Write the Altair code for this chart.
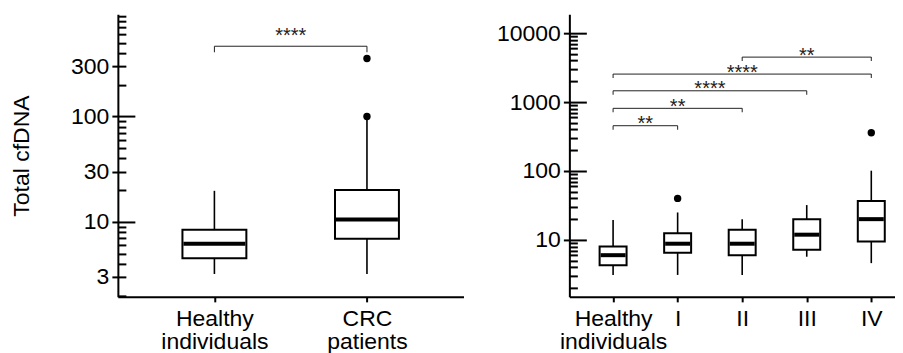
import altair as alt
import pandas as pd

FONT = "Liberation Sans"
FS = 23

# ---------------- data: left panel ----------------
left_cats = ["Healthy|individuals", "CRC|patients"]
left_low = [3.2, 3.2]
left_q1 = [4.5, 6.9]
left_med = [6.2, 10.5]
left_q3 = [8.4, 20.0]
left_high = [19.7, 100.0]
left_out_cat = [1, 1]
left_out_val = [100.0, 355.0]
left_br_a = [0]
left_br_b = [1]
left_br_y = [464.0]
left_br_txt = ["****"]
left_major = [3, 10, 30, 100, 300]

# ---------------- data: right panel ----------------
right_cats = ["Healthy|individuals", "I", "II", "III", "IV"]
right_low = [3.1, 3.1, 3.1, 5.7, 4.6]
right_q1 = [4.3, 6.5, 6.0, 7.2, 9.5]
right_med = [6.0, 8.8, 8.8, 11.9, 20.0]
right_q3 = [8.0, 12.5, 14.0, 20.0, 36.7]
right_high = [19.5, 25.0, 20.0, 32.0, 101.0]
right_out_cat = [1, 4]
right_out_val = [40.0, 359.0]
right_br_a = [0, 0, 0, 0, 2]
right_br_b = [1, 2, 3, 4, 4]
right_br_y = [454.0, 811.0, 1458.0, 2547.0, 4490.0]
right_br_txt = ["**", "**", "****", "****", "**"]
right_major = [10, 100, 1000, 10000]

DECADE_TEST = "abs(log(datum.value)/LN10 - round(log(datum.value)/LN10)) < 0.001"


def minor_values(lo, hi):
    return [m * 10 ** e for e in range(0, 6) for m in range(1, 10) if lo <= m * 10 ** e <= hi]


def panel(cats, low, q1, med, q3, high, out_cat, out_val, br_a, br_b, br_y, br_txt,
          ydomain, major, xdomain, width, box_w, drop, text_dy, ytitle, title_pad):
    n = len(cats)
    stats = pd.DataFrame({"i": list(range(n)), "low": low, "q1": q1, "med": med,
                          "q3": q3, "high": high})
    outl = pd.DataFrame({"i": out_cat, "v": out_val})
    br = pd.DataFrame({"a": br_a, "b": br_b, "y": br_y, "t": br_txt})
    br["mid"] = (br["a"] + br["b"]) / 2
    ends = pd.concat([
        br[["a", "y"]].rename(columns={"a": "i"}),
        br[["b", "y"]].rename(columns={"b": "i"}),
    ])

    label_arr = "[" + ",".join("'%s'" % c for c in cats) + "]"
    xscale = alt.Scale(domain=xdomain, nice=False, zero=False)
    xaxis = alt.Axis(values=list(range(n)),
                     labelExpr="split(%s[datum.value], '|')" % label_arr,
                     title=None, grid=False, tickSize=5, tickWidth=2, domainWidth=2,
                     domainColor="black", tickColor="black", labelColor="black",
                     labelFont=FONT, labelFontSize=FS, labelLineHeight=23,
                     labelPadding=6, labelAngle=0, labelFlush=False, labelOverlap=False,
                     labelBaseline="top")

    def X(f):
        return alt.X(f + ":Q", scale=xscale, axis=xaxis)

    yscale = alt.Scale(type="log", domain=ydomain, nice=False)
    yaxis = alt.Axis(values=major, format="d", title=ytitle, grid=False, tickSize=6,
                     tickWidth=2, domainWidth=2, domainColor="black", tickColor="black",
                     labelColor="black", labelFont=FONT, labelFontSize=FS, labelPadding=3,
                     titleFont=FONT, titleFontSize=FS, titleFontWeight="normal",
                     titleColor="black", titlePadding=title_pad)
    inner_axis = alt.Axis(orient="right", offset=-width,
                          values=minor_values(ydomain[0], ydomain[1]),
                          labels=False, domain=False, title=None, grid=False,
                          tickWidth=2, tickColor="black",
                          tickSize={"condition": {"test": DECADE_TEST, "value": 17},
                                    "value": 8})

    whisk = alt.Chart(stats).mark_rule(color="black", strokeWidth=1.6).encode(
        x=X("i"), y=alt.Y("low:Q", scale=yscale, axis=inner_axis), y2="high:Q")
    box = alt.Chart(stats).mark_bar(size=box_w, fill="white", stroke="black",
                                    strokeWidth=2, opacity=1).encode(
        x=X("i"), y=alt.Y("q1:Q", scale=yscale, axis=yaxis), y2="q3:Q")
    median = alt.Chart(stats).mark_tick(orient="horizontal", color="black", thickness=4,
                                        size=box_w - 2, opacity=1).encode(
        x=X("i"), y=alt.Y("med:Q", scale=yscale, axis=None))
    points = alt.Chart(outl).mark_circle(size=55, color="black", opacity=1).encode(
        x=X("i"), y=alt.Y("v:Q", scale=yscale, axis=None))
    brline = alt.Chart(br).mark_rule(color="#222222", strokeWidth=1).encode(
        x=X("a"), x2="b:Q", y=alt.Y("y:Q", scale=yscale, axis=None))
    brends = alt.Chart(ends).mark_tick(orient="vertical", size=drop, thickness=1,
                                       yOffset=drop / 2, color="#222222",
                                       opacity=1).encode(
        x=X("i"), y=alt.Y("y:Q", scale=yscale, axis=None))
    brtext = alt.Chart(br).mark_text(font=FONT, fontSize=20, baseline="alphabetic",
                                     dy=text_dy, color="#222222").encode(
        x=X("mid"), y=alt.Y("y:Q", scale=yscale, axis=None), text="t:N")

    return alt.layer(whisk, box, median, points, brline, brends, brtext).resolve_axis(
        y="independent").properties(width=width, height=283)


left = panel(left_cats, left_low, left_q1, left_med, left_q3, left_high,
             left_out_cat, left_out_val, left_br_a, left_br_b, left_br_y, left_br_txt,
             [1.94, 935], left_major, [-0.6, 1.6], 346, 64, 6, -4, "Total cfDNA", 37)
right = panel(right_cats, right_low, right_q1, right_med, right_q3, right_high,
              right_out_cat, right_out_val, right_br_a, right_br_b, right_br_y, right_br_txt,
              [1.49, 18850], right_major, [-0.6, 4.29], 326, 27, 4, 4.6, None, 10)

chart = alt.hconcat(left, right, spacing=33).properties(
    padding={"left": 2, "top": 6, "right": 0, "bottom": 0}
).configure_view(stroke=None)

chart.save("out.html", embed_options={"renderer": "svg", "actions": False})
